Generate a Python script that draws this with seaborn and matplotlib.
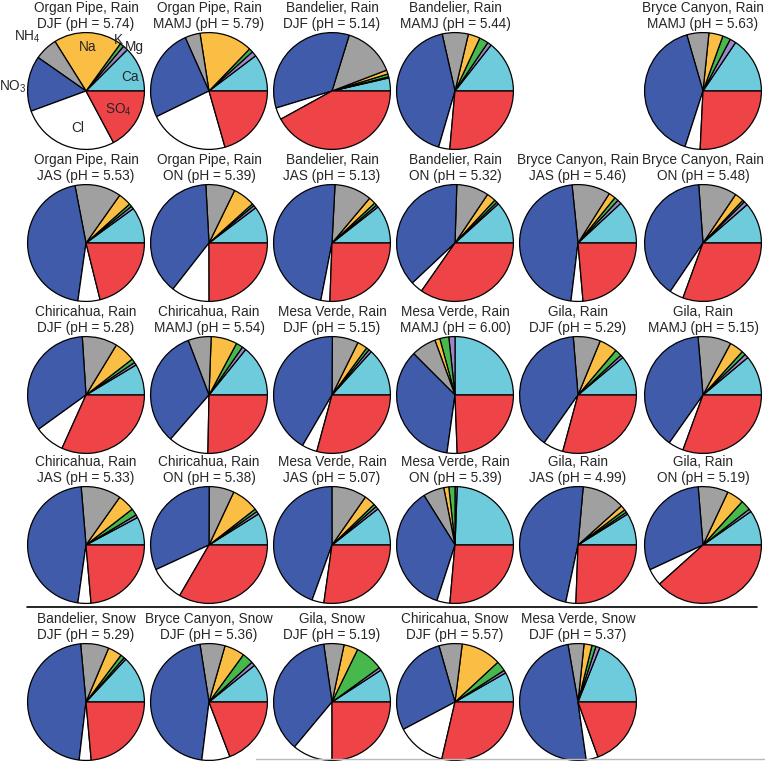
import matplotlib.pyplot as plt
import seaborn as sns
from matplotlib.lines import Line2D

sns.set_theme(style="white")
plt.rcParams['font.family'] = ['Liberation Sans', 'DejaVu Sans']
plt.rcParams['mathtext.fontset'] = 'custom'
plt.rcParams['mathtext.rm'] = 'Liberation Sans'

# --- data: ion share of each sample (percent of equivalents) ---
sites = ["Organ Pipe", "Organ Pipe", "Bandelier", "Bandelier", "Bryce Canyon",
         "Organ Pipe", "Organ Pipe", "Bandelier", "Bandelier", "Bryce Canyon", "Bryce Canyon",
         "Chiricahua", "Chiricahua", "Mesa Verde", "Mesa Verde", "Gila", "Gila",
         "Chiricahua", "Chiricahua", "Mesa Verde", "Mesa Verde", "Gila", "Gila",
         "Bandelier", "Bryce Canyon", "Gila", "Chiricahua", "Mesa Verde"]
precip = ["Rain"] * 23 + ["Snow"] * 5
seasons = ["DJF", "MAMJ", "DJF", "MAMJ", "MAMJ",
           "JAS", "ON", "JAS", "ON", "JAS", "ON",
           "DJF", "MAMJ", "DJF", "MAMJ", "DJF", "MAMJ",
           "JAS", "ON", "JAS", "ON", "JAS", "ON",
           "DJF", "DJF", "DJF", "DJF", "DJF"]
ph = [5.74, 5.79, 5.14, 5.44, 5.63,
      5.53, 5.39, 5.13, 5.32, 5.46, 5.48,
      5.28, 5.54, 5.15, 6.00, 5.29, 5.15,
      5.33, 5.38, 5.07, 5.39, 4.99, 5.19,
      5.29, 5.36, 5.19, 5.57, 5.37]

ca = [12.5, 10.3, 3.6, 14.4, 15.6, 10.0, 10.3, 10.6, 11.7, 11.9, 11.4,
      8.6, 14.2, 13.3, 25.0, 11.1, 11.1, 7.8, 8.9, 10.6, 24.4, 8.9, 9.7,
      13.1, 10.8, 9.2, 8.3, 18.9]
mg = [1.4, 1.4, 0.3, 1.1, 1.7, 0.8, 0.8, 0.6, 0.6, 1.1, 1.1,
      0.8, 1.1, 0.8, 1.7, 0.8, 1.1, 0.8, 0.8, 0.8, 0.6, 0.6, 0.8,
      0.6, 1.1, 0.8, 0.8, 1.1]
k = [1.1, 1.1, 0.8, 2.5, 2.2, 0.8, 0.6, 0.8, 0.8, 1.1, 0.6,
     1.1, 1.9, 0.8, 2.5, 1.9, 1.1, 1.9, 0.8, 0.8, 1.7, 0.8, 2.8,
     1.1, 3.1, 7.8, 2.8, 1.1]
na = [18.9, 14.7, 1.1, 3.3, 3.9, 3.6, 6.1, 1.9, 2.5, 1.9, 2.5,
      5.8, 7.2, 2.8, 1.4, 5.0, 3.9, 4.7, 7.5, 3.1, 1.4, 1.4, 4.7,
      3.9, 5.6, 3.9, 11.1, 2.2]
nh4 = [6.4, 4.2, 14.4, 7.2, 6.1, 12.8, 8.1, 10.3, 8.9, 10.6, 10.6,
       9.7, 6.4, 7.2, 6.9, 7.5, 9.2, 11.1, 6.9, 9.7, 5.8, 11.9, 8.3,
       7.8, 6.9, 5.6, 6.4, 4.4]
no3 = [15.3, 25.6, 34.4, 41.9, 40.6, 44.7, 38.6, 47.8, 37.5, 46.4, 39.4,
       33.9, 32.8, 41.7, 35.3, 38.9, 38.9, 46.4, 31.9, 44.4, 36.1, 48.1, 30.6,
       46.7, 45.6, 36.7, 28.3, 49.4]
cl = [27.2, 22.2, 3.3, 3.1, 4.2, 6.1, 10.6, 2.5, 3.3, 3.3, 3.9,
      8.3, 11.1, 4.2, 2.8, 5.6, 4.2, 3.6, 9.7, 3.3, 3.6, 2.8, 4.7,
      3.3, 7.8, 11.1, 13.6, 3.3]
so4 = [17.2, 20.6, 41.9, 26.4, 25.8, 21.1, 25.0, 25.6, 34.7, 23.6, 30.6,
       31.7, 25.3, 29.2, 24.4, 29.2, 30.6, 23.6, 33.3, 27.2, 26.4, 25.6, 38.3,
       23.6, 19.2, 25.0, 28.6, 19.4]

ion_colors = sns.color_palette(["#6DCBDC", "#9A86C8", "#47B84B", "#FBBE45",
                                "#A0A0A0", "#3F5BAA", "#FFFFFF", "#EE4347"])

# --- layout (pixels) ---
W, H = 765, 762
R = 59
col_x = [86, 209, 332, 455, 578, 703]
row_y = [91, 243, 395, 545, 702]
slots = [(0, 0), (0, 1), (0, 2), (0, 3), (0, 5)] + \
        [(r, c) for r in (1, 2, 3) for c in range(6)] + \
        [(4, c) for c in range(5)]

fig = plt.figure(figsize=(W / 100, H / 100), dpi=100)
fs = 9.8

for i, (r, c) in enumerate(slots):
    cx, cy = col_x[c], row_y[r]
    ax = fig.add_axes([(cx - R) / W, 1 - (cy + R) / H, 2 * R / W, 2 * R / H])
    vals = [ca[i], mg[i], k[i], na[i], nh4[i], no3[i], cl[i], so4[i]]
    ax.pie(vals, colors=ion_colors, startangle=0, counterclock=True, radius=1,
           wedgeprops=dict(edgecolor='black', linewidth=0.9))
    ax.set_xlim(-1.01, 1.01)
    ax.set_ylim(-1.01, 1.01)
    ax.text(0, 1.42, f"{sites[i]}, {precip[i]}", ha='center', va='center', fontsize=fs)
    ax.text(0, 1.14, f"{seasons[i]} (pH = {ph[i]:.2f})", ha='center', va='center', fontsize=fs)

    if i == 0:
        labels = [("NH$_\\mathregular{4}$", -1.0, 0.92), ("Na", 0.03, 0.76), ("K", 0.55, 0.87),
                  ("Mg", 0.82, 0.76), ("Ca", 0.76, 0.24), ("NO$_\\mathregular{3}$", -1.25, 0.08),
                  ("SO$_\\mathregular{4}$", 0.56, -0.32), ("Cl", -0.15, -0.64)]
        for txt, lx, ly in labels:
            ax.text(lx, ly, txt, ha='center', va='center', fontsize=fs)

# separator between rain and snow rows, plus the faint edge line at the bottom
fig.add_artist(Line2D([27 / W, 757 / W], [1 - 607 / H, 1 - 607 / H], color='black', lw=1.2))
fig.add_artist(Line2D([256 / W, 1.0], [1 - 759 / H, 1 - 759 / H], color='#BBBBBB', lw=1.0))

fig.savefig("out.png", dpi=100)
